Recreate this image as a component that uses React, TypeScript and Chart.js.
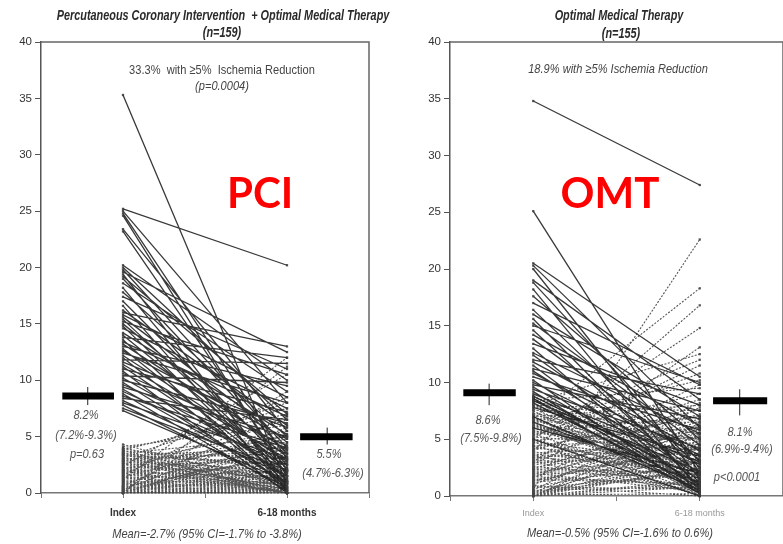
import React, { useEffect, useRef } from "react";
import { Chart, registerables } from "chart.js";

Chart.register(...registerables);

// ---------- data ----------
const xTickValues = [0, 1, 2, 3, 4];
const pciTickLabels = ["", "Index", "", "6-18 months", ""];
const omtTickLabels = ["", "Index", "", "6-18 months", ""];
const yMin = 0;
const yMax = 40;
const yStep = 5;

// PCI + OMT (n=159): solid = clear decreases, dashed = low-index mesh / increases
const pciSolidIndex = [
  35.3, 25.2, 25.0, 24.8, 24.6, 23.4, 23.2, 20.2, 20.0, 19.8,
  19.6, 19.4, 19.2, 19.0, 18.6, 18.2, 17.8, 17.4, 17.0, 16.6,
  16.2, 16.0, 15.8, 15.6, 15.4, 15.2, 15.0, 14.8, 14.6, 14.2,
  14.0, 13.8, 13.6, 13.4, 13.2, 13.0, 12.8, 12.6, 12.4, 12.2,
  12.0, 11.8, 11.6, 11.4, 11.2, 11.0, 10.8, 10.6, 10.4, 10.2,
  10.0, 9.8, 9.6, 9.4, 9.2, 9.0, 8.8, 8.6, 8.4, 8.2,
  8.0, 7.8, 7.5, 7.3,
];
const pciSolidFollow = [
  0.8, 20.2, 8.0, 3.0, 1.5, 5.5, 2.0, 10.0, 6.5, 4.0,
  12.5, 0.5, 7.0, 3.5, 9.0, 1.0, 5.0, 11.0, 2.5, 0.3,
  6.0, 13.0, 8.5, 4.5, 1.8, 10.5, 3.2, 0.8, 7.5, 5.2,
  2.2, 12.0, 0.2, 6.8, 3.8, 9.5, 1.2, 4.8, 8.0, 2.8,
  0.5, 11.5, 5.8, 3.0, 1.5, 7.2, 0.0, 4.2, 9.8, 2.0,
  6.2, 0.8, 3.5, 5.0, 1.0, 2.5, 0.2, 4.0, 6.5, 1.5,
  3.0, 0.5, 2.0, 1.0,
];
const pciDashedIndex = [
  4.3, 4.1, 4.0, 3.9, 3.8, 3.8, 3.7, 3.6, 3.5, 3.5,
  3.4, 3.3, 3.3, 3.2, 3.1, 3.0, 3.0, 2.9, 2.8, 2.8,
  2.7, 2.6, 2.6, 2.5, 2.5, 2.4, 2.3, 2.3, 2.2, 2.1,
  2.1, 2.0, 2.0, 1.9, 1.8, 1.8, 1.7, 1.7, 1.6, 1.5,
  1.5, 1.4, 1.4, 1.3, 1.2, 1.2, 1.1, 1.0, 1.0, 0.9,
  0.9, 0.8, 0.8, 0.7, 0.7, 0.6, 0.6, 0.5, 0.5, 0.5,
  0.4, 0.4, 0.3, 0.3, 0.3, 0.2, 0.2, 0.2, 0.1, 0.1,
  0.1, 0.0, 0.0, 0.0, 0.0, 0.0, 0.0, 0.0, 0.0, 0.0,
  3.9, 3.6, 3.4, 3.1, 2.9, 2.7, 2.4, 2.2, 1.9, 1.6,
  1.3, 1.1, 0.6, 0.4, 0.2,
];
const pciDashedFollow = [
  0.5, 6.0, 1.0, 2.0, 7.5, 0.0, 3.0, 0.8, 5.0, 1.5,
  0.2, 4.0, 2.5, 0.0, 8.0, 1.0, 3.5, 0.3, 2.0, 5.5,
  0.0, 1.2, 4.5, 0.6, 2.8, 10.5, 0.0, 1.8, 3.2, 0.4,
  6.5, 1.0, 2.2, 0.0, 4.8, 1.5, 0.2, 3.8, 0.8, 2.6,
  0.0, 5.2, 1.4, 0.5, 12.0, 2.0, 0.0, 3.0, 1.0, 0.3,
  4.2, 0.0, 2.4, 0.7, 1.6, 6.8, 0.0, 1.0, 3.4, 0.2,
  2.0, 0.0, 5.8, 1.2, 0.5, 2.8, 0.0, 9.0, 1.5, 0.3,
  3.6, 0.0, 2.2, 0.8, 4.4, 1.0, 0.0, 11.2, 1.8, 0.4,
  7.0, 0.0, 2.6, 1.2, 3.8, 0.6, 5.0, 0.0, 1.4, 8.5,
  2.0, 0.2, 3.2, 0.9, 4.0,
];

// OMT (n=155)
const omtSolidIndex = [
  34.8, 25.1, 20.5, 20.3, 20.0, 19.0, 18.8, 18.2, 17.6, 17.0,
  16.4, 16.0, 15.6, 15.2, 15.0, 14.6, 14.2, 13.8, 13.4, 13.0,
  12.6, 12.4, 12.0, 11.8, 11.5, 11.2, 11.0, 10.8, 10.5, 10.2,
  10.0, 9.8, 9.6, 9.4, 9.2, 9.0, 8.8, 8.6, 8.4, 8.2,
  7.8, 7.0, 6.5, 6.0, 5.0,
];
const omtSolidFollow = [
  27.4, 2.0, 10.5, 6.0, 1.5, 8.5, 3.0, 0.5, 5.0, 9.8,
  2.5, 7.0, 0.8, 4.5, 10.0, 1.2, 6.2, 3.2, 8.0, 0.3,
  5.5, 2.0, 9.0, 4.0, 0.6, 7.5, 1.8, 3.6, 5.8, 0.2,
  2.8, 6.8, 1.0, 4.2, 0.4, 3.0, 1.5, 0.2, 2.2, 0.8,
  3.5, 0.5, 1.2, 2.0, 0.0,
];
const omtDashedIndex = [
  0.6, 8.7, 6.8, 8.5, 8.4, 8.3, 4.0, 8.1, 8.0, 7.9,
  5.0, 7.6, 7.5, 3.0, 7.2, 7.0, 6.9, 6.8, 6.6, 6.5,
  6.4, 6.2, 6.0, 5.9, 5.8, 5.6, 5.5, 5.4, 5.2, 5.0,
  4.9, 4.8, 4.6, 4.5, 4.4, 4.2, 4.0, 3.9, 3.8, 3.6,
  3.5, 3.4, 3.2, 3.0, 2.9, 2.8, 2.6, 2.5, 2.4, 2.2,
  2.0, 1.9, 1.8, 1.6, 1.5, 1.4, 1.2, 1.0, 0.9, 0.8,
  8.8, 0.5, 0.4, 0.2, 0.0, 0.0, 0.0, 0.0, 0.0, 0.0,
  8.5, 8.0, 7.7, 7.3, 6.7, 6.3, 5.7, 5.3, 4.7, 4.3,
  3.7, 3.3, 2.7, 2.3, 1.7, 1.3, 0.7, 0.3, 0.1, 0.0,
  8.6, 7.1, 6.1, 5.1, 4.1, 3.1, 2.1, 1.1, 0.5, 0.2,
  8.3, 6.9, 5.6, 4.4, 3.4, 2.4, 1.6, 0.8, 0.3, 0.0,
];
const omtDashedFollow = [
  22.6, 4.0, 18.3, 2.0, 9.5, 6.0, 16.8, 1.0, 7.5, 3.0,
  14.8, 5.5, 0.5, 13.1, 2.5, 8.0, 4.5, 1.5, 10.2, 6.5,
  0.8, 3.5, 12.0, 5.0, 2.0, 7.0, 0.3, 9.0, 4.0, 1.2,
  6.0, 2.8, 11.5, 0.0, 5.2, 3.2, 8.5, 1.8, 4.5, 0.6,
  7.2, 2.4, 5.8, 0.2, 3.8, 9.8, 1.4, 4.8, 6.8, 2.2,
  0.4, 5.5, 3.0, 8.2, 1.0, 4.2, 2.6, 6.2, 0.0, 3.4,
  1.6, 7.8, 2.0, 4.6, 0.8, 3.0, 5.4, 1.2, 6.4, 2.4,
  0.0, 3.6, 1.4, 5.0, 2.8, 0.6, 4.0, 10.8, 1.8, 7.0,
  2.2, 0.4, 5.6, 3.2, 1.0, 4.4, 2.0, 6.0, 0.2, 3.8,
  1.2, 4.8, 2.6, 0.0, 7.6, 3.0, 1.6, 5.2, 0.8, 2.4,
  12.5, 0.3, 3.6, 1.0, 4.2, 2.0, 6.6, 0.6, 3.0, 1.4,
];

// mean markers: [level, ciLow, ciHigh]
const pciIndexMean = [8.6, 7.8, 9.4];
const pciFollowMean = [5.0, 4.3, 5.8];
const omtIndexMean = [9.1, 8.0, 9.9];
const omtFollowMean = [8.4, 7.1, 9.4];

// ---------- helpers ----------
const FONT = "'Liberation Sans', Arial, Helvetica, sans-serif";

function pairs(idx: number[], fol: number[]) {
  const d: any[] = [];
  idx.forEach((v, i) => {
    d.push({ x: 1, y: v }, { x: 3, y: fol[i] }, { x: 3, y: null });
  });
  return d;
}

function meanSets(m: number[], x0: number, x1: number, xc: number) {
  return [
    {
      data: [{ x: x0, y: m[0] }, { x: x1, y: m[0] }],
      borderColor: "#000",
      borderWidth: 7,
      borderCapStyle: "butt",
      pointRadius: 0,
      clip: false,
    },
    {
      data: [{ x: xc, y: m[1] }, { x: xc, y: m[2] }],
      borderColor: "#222",
      borderWidth: 1,
      pointRadius: 0,
      clip: false,
    },
  ];
}

const boxPlugin = {
  id: "box",
  afterDraw(chart: any) {
    const { ctx, chartArea } = chart;
    const { left, top, right, bottom } = chartArea;
    ctx.save();
    ctx.strokeStyle = "#666";
    ctx.lineWidth = 1.5;
    ctx.beginPath();
    ctx.moveTo(left, top);
    ctx.lineTo(right, top);
    ctx.lineTo(right, bottom);
    ctx.stroke();
    ctx.restore();
  },
};

function makeConfig(p: any) {
  return {
    type: "line",
    data: {
      datasets: [
        ...meanSets(p.m1, p.bar1[0], p.bar1[1], p.bar1[2]),
        ...meanSets(p.m2, p.bar2[0], p.bar2[1], p.bar2[2]),
        {
          data: pairs(p.si, p.sf),
          borderColor: "rgba(30,30,30,0.88)",
          borderWidth: 1.3,
          pointStyle: "rect",
          pointRadius: 1.6,
          pointBackgroundColor: "rgba(60,60,60,0.9)",
          pointBorderWidth: 0,
          spanGaps: false,
          tension: 0,
          clip: false,
        },
        {
          data: pairs(p.di, p.df),
          borderColor: "rgba(55,55,55,0.85)",
          borderWidth: 1.1,
          borderDash: [2, 1.5],
          pointStyle: "rect",
          pointRadius: 1.6,
          pointBackgroundColor: "rgba(70,70,70,0.9)",
          pointBorderWidth: 0,
          spanGaps: false,
          tension: 0,
          clip: false,
        },
      ],
    },
    options: {
      animation: false,
      responsive: false,
      events: [],
      layout: { padding: { top: 42, right: p.padRight, bottom: 0, left: 0 } },
      plugins: { legend: { display: false }, tooltip: { enabled: false }, title: { display: false } },
      scales: {
        x: {
          type: "linear",
          min: 0,
          max: 4,
          afterBuildTicks: (s: any) => {
            s.ticks = xTickValues.map((v) => ({ value: v }));
          },
          afterFit: (s: any) => {
            s.height = p.xHeight;
          },
          ticks: {
            autoSkip: false,
            maxRotation: 0,
            padding: p.xPad,
            color: p.xColor,
            font: { family: FONT, size: p.xSize, weight: p.xWeight },
            callback: (v: number) => p.labels[v] ?? "",
          },
          grid: { drawOnChartArea: false, tickLength: 5, color: "#777", lineWidth: 1 },
          border: { color: "#777", width: 1.5 },
        },
        y: {
          min: yMin,
          max: yMax,
          afterFit: (s: any) => {
            s.width = p.yWidth;
          },
          ticks: {
            stepSize: yStep,
            padding: 3,
            color: "#333",
            font: { family: FONT, size: 11.5 },
          },
          grid: { drawOnChartArea: false, tickLength: 6, color: "#555", lineWidth: 1 },
          border: { color: "#555", width: 1.5 },
        },
      },
    },
    plugins: [boxPlugin],
  } as any;
}

function Panel({ left, width, cfg }: { left: number; width: number; cfg: any }) {
  const ref = useRef<HTMLCanvasElement>(null);
  useEffect(() => {
    const chart = new Chart(ref.current as HTMLCanvasElement, makeConfig(cfg));
    return () => chart.destroy();
  }, []);
  return (
    <canvas
      ref={ref}
      width={width}
      height={544}
      style={{ position: "absolute", left, top: 0, width, height: 544 }}
    />
  );
}

function T({ x, y, children, style, sx = 0.82 }: any) {
  return (
    <div
      style={{
        position: "absolute",
        left: x,
        top: y,
        transform: `translate(-50%, -50%) scaleX(${sx})`,
        whiteSpace: "nowrap",
        fontFamily: FONT,
        color: "#444",
        lineHeight: 1,
        ...style,
      }}
    >
      {children}
    </div>
  );
}

export default function App() {
  const pciCfg = {
    si: pciSolidIndex, sf: pciSolidFollow, di: pciDashedIndex, df: pciDashedFollow,
    m1: pciIndexMean, m2: pciFollowMean,
    bar1: [0.26, 0.89, 0.57], bar2: [3.16, 3.8, 3.49],
    padRight: 22, xHeight: 51, yWidth: 41, xPad: 9, xSize: 10, xWeight: "bold", xColor: "#333",
    labels: pciTickLabels,
  };
  const omtCfg = {
    si: omtSolidIndex, sf: omtSolidFollow, di: omtDashedIndex, df: omtDashedFollow,
    m1: omtIndexMean, m2: omtFollowMean,
    bar1: [0.16, 0.79, 0.47], bar2: [3.16, 3.81, 3.48],
    padRight: 20, xHeight: 48, yWidth: 55, xPad: 7, xSize: 9, xWeight: "normal", xColor: "#999",
    labels: omtTickLabels,
  };
  const title = { fontWeight: "bold", fontStyle: "italic", fontSize: 14.5, color: "#2a2a2a" };
  const val = { fontStyle: "italic", fontSize: 13.5, color: "#555" };
  const note = { fontSize: 13.5, color: "#444" };
  const big = { fontFamily: "Lato, 'Open Sans', sans-serif", fontWeight: "bold", fontSize: 42, color: "#ff0000" };
  return (
    <div style={{ position: "absolute", left: 0, top: 0, width: 783, height: 544, background: "#fff", overflow: "hidden" }}>
      <Panel left={0} width={391} cfg={pciCfg} />
      <Panel left={395} width={408} cfg={omtCfg} />

      <T x={223} y={15} sx={0.75} style={title}>Percutaneous Coronary Intervention&nbsp; + Optimal Medical Therapy</T>
      <T x={222} y={32} sx={0.75} style={title}>(n=159)</T>
      <T x={222} y={70} style={note}>33.3%&nbsp; with ≥5%&nbsp; Ischemia Reduction</T>
      <T x={222} y={86} style={{ ...note, fontStyle: "italic" }}>(p=0.0004)</T>
      <T x={260} y={192} sx={1} style={big}>PCI</T>

      <T x={86} y={415} style={val}>8.2%</T>
      <T x={86} y={435} style={val}>(7.2%-9.3%)</T>
      <T x={87} y={454} style={val}>p=0.63</T>
      <T x={329} y={454} style={val}>5.5%</T>
      <T x={333} y={473} style={val}>(4.7%-6.3%)</T>
      <T x={207} y={534} style={{ ...note, fontStyle: "italic" }}>Mean=-2.7% (95% CI=-1.7% to -3.8%)</T>

      <T x={619} y={15} sx={0.75} style={title}>Optimal Medical Therapy</T>
      <T x={621} y={33} sx={0.75} style={title}>(n=155)</T>
      <T x={618} y={69} style={{ ...note, fontStyle: "italic" }}>18.9% with ≥5% Ischemia Reduction</T>
      <T x={610} y={192} sx={1} style={big}>OMT</T>

      <T x={488} y={420} style={val}>8.6%</T>
      <T x={491} y={438} style={val}>(7.5%-9.8%)</T>
      <T x={740} y={432} style={val}>8.1%</T>
      <T x={742} y={449} style={val}>(6.9%-9.4%)</T>
      <T x={737} y={477} style={val}>p&lt;0.0001</T>
      <T x={620} y={533} style={{ ...note, fontStyle: "italic" }}>Mean=-0.5% (95% CI=-1.6% to 0.6%)</T>
    </div>
  );
}
